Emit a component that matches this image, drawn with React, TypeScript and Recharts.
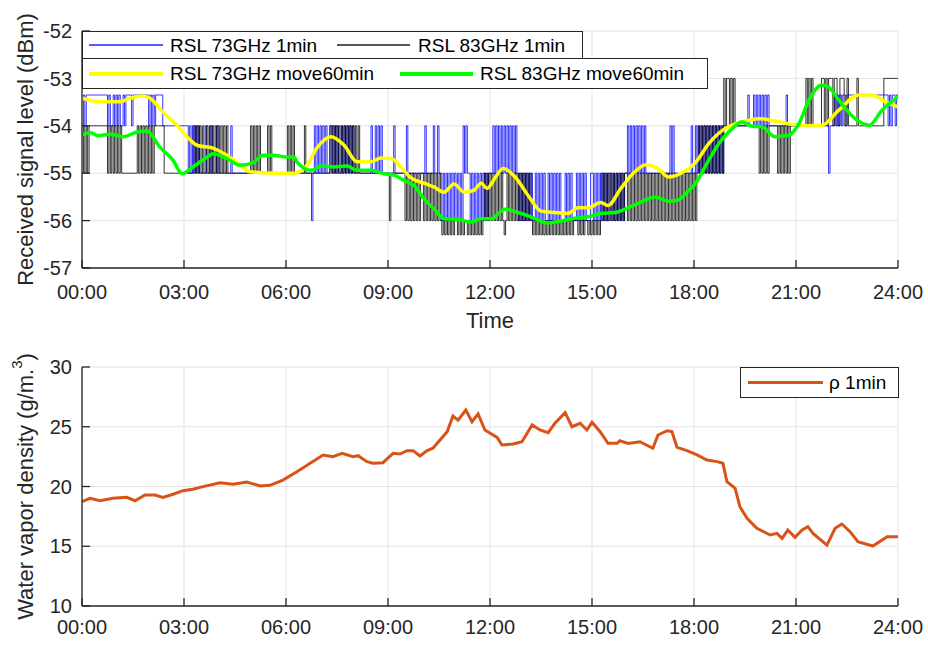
import { LineChart, Line, XAxis, YAxis, CartesianGrid, Legend, Label } from "recharts";

const FONT = '"Liberation Sans", Arial, Helvetica, sans-serif';
const INK = "#262626";
const GRID = "#e3e3e3";

const hourTicks = [0, 3, 6, 9, 12, 15, 18, 21, 24];
const rslTicks = [-57, -56, -55, -54, -53, -52];
const vaporTicks = [10, 15, 20, 25, 30];

// 1-min RSL at 2.5-min steps, one string per hour
const rsl73Levels: Record<string, number> = { a: -53.35, "4": -54, "5": -55, "6": -56 };
const rsl73Steps = [
  "4a4aaaaaaaaaaaaaaa4a44a4", "a4a44a4aaaa4aaaaaaaaaaa4", "a4a4aaaaa444444444444444", "444545454545555455545554",
  "555555555455555555555555", "555555555555555555555555", "555555555555555555654545", "454545544545455454545454",
  "555555555555455454545555", "555545555555545555555555", "554555554554556565656565", "656564545565656565656565",
  "554545454545454545456565", "656565665656565665656565", "656665656566656565656665", "565656565656556565656565",
  "545454545454545555555555", "555555545455555555555545", "545454545454545454545444", "44444444444444a444a4a4a4",
  "a4a4a444444444444a444444", "444444444444444444444445", "444a4a4a4aa4aaaaaaaaaaaa", "aaaaaaaaaaaaaaaaa4a4aa4a",
];

const rsl83Levels: Record<string, number> = { "3": -53, "4": -54, "5": -55, "6": -56, "7": -56.3 };
const rsl83Steps = [
  "545454444444444444545454", "545455555555555454545454", "545444444455555555555555", "555555545454545545454545",
  "454545455555555555555554", "545454555554545555555555", "545454555555545555555555", "555555545454545454545454",
  "545455555555555555555555", "565555555555656565656565", "565656565656567676767676", "676767667676767676765656",
  "565656565676565656565656", "565656767676767676767676", "767676767676667676766767", "676767656565656565656565",
  "565656565656565656565656", "565656565656565656565656", "565454545454545454545343", "343434444444444444444454",
  "545454444445454545454444", "444444434343444444334343", "334334433344344444434444", "444444444444443333333333",
];

// 60-min moving averages [hour, dBm]
const rsl73Move60 = [
  [0, -53.42], [0.53, -53.49], [1.12, -53.49], [1.41, -53.42], [1.79, -53.37],
  [2.0, -53.42], [2.38, -53.71], [2.79, -53.99], [3.09, -54.23], [3.38, -54.41],
  [3.85, -54.47], [4.26, -54.62], [4.65, -54.83], [4.94, -54.97], [5.82, -55.0],
  [6.24, -55.0], [6.62, -54.83], [6.91, -54.47], [7.32, -54.23], [7.71, -54.41],
  [8.09, -54.76], [8.5, -54.76], [8.79, -54.68], [9.09, -54.69], [9.38, -54.87],
  [9.68, -55.1], [10.06, -55.21], [10.35, -55.29], [10.65, -55.4], [10.94, -55.23],
  [11.24, -55.4], [11.53, -55.36], [11.74, -55.21], [11.91, -55.32], [12.15, -55.1],
  [12.38, -54.9], [12.74, -55.08], [13.12, -55.47], [13.5, -55.8], [13.91, -55.83],
  [14.29, -55.85], [14.59, -55.73], [14.88, -55.73], [15.26, -55.62], [15.47, -55.68],
  [15.85, -55.32], [16.26, -54.97], [16.59, -54.82], [16.94, -54.9], [17.24, -55.08],
  [17.62, -55.0], [18.06, -54.76], [18.44, -54.37], [18.91, -54.06], [19.41, -53.92],
  [19.91, -53.85], [20.38, -53.9], [20.88, -53.97], [21.38, -54.0], [21.76, -53.99],
  [22.26, -53.67], [22.85, -53.35], [23.24, -53.35], [23.62, -53.49], [24, -53.6],
];

const rsl83Move60 = [
  [0, -54.2], [0.24, -54.14], [0.47, -54.21], [0.82, -54.18], [1.21, -54.23],
  [1.62, -54.13], [1.91, -54.11], [2.29, -54.45], [2.68, -54.73], [2.94, -55.01],
  [3.26, -54.87], [3.68, -54.66], [3.85, -54.59], [4.26, -54.69], [4.65, -54.83],
  [5.03, -54.78], [5.32, -54.62], [5.62, -54.62], [6.03, -54.66], [6.24, -54.66],
  [6.32, -54.76], [6.74, -54.94], [7.03, -54.85], [7.41, -54.87], [7.79, -54.85],
  [8.09, -54.94], [8.5, -54.94], [8.88, -55.01], [9.18, -55.04], [9.47, -55.15],
  [9.76, -55.26], [10.06, -55.54], [10.35, -55.75], [10.65, -55.96], [11.03, -55.97],
  [11.44, -56.03], [11.74, -55.96], [12.03, -55.96], [12.44, -55.76], [12.82, -55.83],
  [13.2, -55.92], [13.71, -56.05], [14.0, -56.02], [14.5, -55.95], [14.88, -55.92],
  [15.26, -55.85], [15.68, -55.83], [16.06, -55.73], [16.44, -55.61], [16.85, -55.5],
  [17.24, -55.59], [17.53, -55.57], [17.82, -55.38], [18.06, -55.2], [18.32, -54.87],
  [18.74, -54.37], [19.12, -54.06], [19.41, -53.92], [19.71, -54.01], [20.0, -54.02],
  [20.38, -54.23], [20.79, -54.2], [21.09, -53.95], [21.38, -53.46], [21.76, -53.14],
  [21.97, -53.19], [22.26, -53.46], [22.74, -53.85], [23.15, -53.99], [23.53, -53.67],
  [24, -53.39],
];

// water vapour density [hour, g/m3]
const vapor1min = [
  [0, 18.73], [0.24, 19.01], [0.53, 18.81], [0.91, 19.01], [1.32, 19.09], [1.56, 18.81],
  [1.85, 19.29], [2.15, 19.29], [2.38, 19.09], [2.68, 19.35], [2.97, 19.65], [3.26, 19.77],
  [3.56, 19.99], [4.06, 20.32], [4.44, 20.18], [4.85, 20.38], [5.24, 20.04], [5.53, 20.1],
  [5.91, 20.54], [6.32, 21.24], [6.71, 21.94], [7.09, 22.64], [7.38, 22.5], [7.65, 22.78],
  [7.97, 22.5], [8.12, 22.58], [8.38, 22.08], [8.56, 21.94], [8.85, 21.99], [9.15, 22.78],
  [9.35, 22.72], [9.56, 23.0], [9.74, 23.0], [9.94, 22.55], [10.15, 23.0], [10.32, 23.2],
  [10.53, 23.89], [10.74, 24.59], [10.91, 25.9], [11.06, 25.56], [11.29, 26.4], [11.47, 25.42],
  [11.65, 26.07], [11.85, 24.73], [12.21, 24.11], [12.35, 23.47], [12.68, 23.56], [12.94, 23.75],
  [13.24, 25.15], [13.47, 24.73], [13.71, 24.5], [13.91, 25.29], [14.21, 26.18], [14.41, 25.0],
  [14.65, 25.29], [14.85, 24.73], [15.0, 25.37], [15.24, 24.59], [15.47, 23.61], [15.74, 23.61],
  [15.82, 23.83], [16.06, 23.61], [16.41, 23.75], [16.79, 23.2], [16.94, 24.31], [17.21, 24.67],
  [17.35, 24.59], [17.5, 23.28], [17.79, 23.0], [18.09, 22.64], [18.38, 22.22], [18.68, 22.08],
  [18.85, 21.94], [18.97, 20.4], [19.21, 19.85], [19.35, 18.31], [19.56, 17.34], [19.85, 16.5],
  [20.24, 15.94], [20.44, 16.08], [20.59, 15.66], [20.76, 16.36], [20.97, 15.75], [21.18, 16.36],
  [21.35, 16.64], [21.5, 16.08], [21.91, 15.1], [22.15, 16.5], [22.35, 16.86], [22.59, 16.22],
  [22.82, 15.38], [23.26, 15.02], [23.68, 15.8], [24, 15.8],
];

const stepData = (hours: string[], levels: Record<string, number>) => {
  const codes = hours.join("");
  const per = hours[0].length;
  const pts = codes.split("").map((c, i) => ({ t: i / per, v: levels[c] }));
  pts.push({ t: 24, v: levels[codes[codes.length - 1]] });
  return pts;
};
const pairs = (arr: number[][]) => arr.map(([t, v]) => ({ t, v }));

const rsl73Data = stepData(rsl73Steps, rsl73Levels);
const rsl83Data = stepData(rsl83Steps, rsl83Levels);
const move73Data = pairs(rsl73Move60);
const move83Data = pairs(rsl83Move60);
const vaporData = pairs(vapor1min);

const fmtHour = (h: number) => `${String(h).padStart(2, "0")}:00`;
const tickFont = { fontSize: 20, fill: INK, fontFamily: FONT };
const axisStroke = { stroke: INK, strokeWidth: 1.3 };
const noTick = () => <g />;

const Swatch = ({ left, width, color, h }: any) => (
  <span style={{ position: "absolute", left, top: "50%", width, height: h, marginTop: -h / 2, background: color }} />
);
const Txt = ({ left, children }: any) => (
  <span style={{ position: "absolute", left, top: 0, bottom: 0, display: "flex", alignItems: "center", whiteSpace: "nowrap" }}>
    {children}
  </span>
);
const boxStyle = (top: number, width: number, height: number): React.CSSProperties => ({
  position: "absolute", left: 0, top, width, height, border: `1px solid ${INK}`,
  background: "#fff", boxSizing: "border-box",
});

const RslLegend = () => (
  <div style={{ position: "relative", fontFamily: FONT, fontSize: 19, color: "#000", lineHeight: 1 }}>
    <div style={boxStyle(0, 501, 28)}>
      <Swatch left={6} width={74} color="#5a5aff" h={1.2} />
      <Txt left={87}>RSL 73GHz 1min</Txt>
      <Swatch left={254} width={73} color="#555" h={1.2} />
      <Txt left={335}>RSL 83GHz 1min</Txt>
    </div>
    <div style={boxStyle(27, 626, 31)}>
      <Swatch left={6} width={74} color="#ffff00" h={4} />
      <Txt left={87}>RSL 73GHz move60min</Txt>
      <Swatch left={317} width={73} color="#00ff00" h={4} />
      <Txt left={397}>RSL 83GHz move60min</Txt>
    </div>
  </div>
);

const VaporLegend = () => (
  <div style={{ position: "relative", fontFamily: FONT, fontSize: 19, color: "#000", lineHeight: 1 }}>
    <div style={boxStyle(0, 159, 31)}>
      <Swatch left={7} width={75} color="#d95319" h={3} />
      <Txt left={88}>ρ 1min</Txt>
    </div>
  </div>
);

const Title = (text: string, dy: number) => (p: any) => {
  const vb = p.viewBox || { x: 82, y: 31, width: 816 };
  return (
    <text x={vb.x + vb.width / 2} y={vb.y - dy} textAnchor="middle" dominantBaseline="central"
      fontFamily={FONT} fontSize={21} fill="#000">
      {text}
    </text>
  );
};

const YTitle = (children: any, cx: number) => (p: any) => {
  const vb = p.viewBox || { x: 32, y: 31, width: 50, height: 237 };
  const cy = vb.y + vb.height / 2;
  return (
    <text x={cx} y={cy} transform={`rotate(-90 ${cx} ${cy})`} textAnchor="middle"
      dominantBaseline="central" fontFamily={FONT} fontSize={22} fill={INK}>
      {children}
    </text>
  );
};

export default function App() {
  return (
    <div style={{ position: "absolute", left: 0, top: 0, width: 928, height: 646, background: "#fff" }}>
      <div style={{ position: "absolute", left: 0, top: 330 }}>
        <LineChart width={928} height={316} margin={{ top: 37, right: 30, bottom: 10, left: 32 }}>
          <CartesianGrid stroke={GRID} strokeWidth={1} />
          <XAxis dataKey="t" type="number" domain={[0, 24]} ticks={hourTicks} allowDataOverflow
            tickFormatter={fmtHour} tick={tickFont} tickSize={-8} tickMargin={22} height={30}
            axisLine={axisStroke} tickLine={axisStroke} interval={0} />
          <XAxis xAxisId="top" orientation="top" dataKey="t" type="number" domain={[0, 24]} ticks={hourTicks}
            allowDataOverflow tick={noTick} tickSize={-8} height={0} axisLine={axisStroke} tickLine={axisStroke} interval={0}>
            <Label content={Title("(b) 20200801", 15)} />
          </XAxis>
          <YAxis domain={[10, 30]} ticks={vaporTicks} allowDataOverflow tick={tickFont} tickSize={-8}
            tickMargin={18} width={50} axisLine={axisStroke} tickLine={axisStroke} interval={0}>
            <Label content={YTitle(
              <>
                Water vapor density (g/m.<tspan dy={-9} fontSize={15}>3</tspan><tspan dy={9}>)</tspan>
              </>, 25)} />
          </YAxis>
          <YAxis yAxisId="right" orientation="right" domain={[10, 30]} ticks={vaporTicks} allowDataOverflow
            tick={noTick} tickSize={-8} width={0} axisLine={axisStroke} tickLine={axisStroke} interval={0} />
          <Line data={vaporData} dataKey="v" type="linear" stroke="#d95319" strokeWidth={3}
            dot={false} isAnimationActive={false} />
          <Legend layout="horizontal" verticalAlign="middle" align="center" content={<VaporLegend />}
            wrapperStyle={{ left: 740, top: 37, width: 160, height: 32 }} />
        </LineChart>
      </div>
      <div style={{ position: "absolute", left: 0, top: 0 }}>
        <LineChart width={928} height={345} margin={{ top: 31, right: 30, bottom: 47, left: 32 }}>
          <CartesianGrid stroke={GRID} strokeWidth={1} />
          <XAxis dataKey="t" type="number" domain={[0, 24]} ticks={hourTicks} allowDataOverflow
            tickFormatter={fmtHour} tick={tickFont} tickSize={-8} tickMargin={25} height={30}
            axisLine={axisStroke} tickLine={axisStroke} interval={0}>
            <Label content={(p: any) => {
              const vb = p.viewBox || { x: 82, y: 268, width: 816 };
              return (
                <text x={vb.x + vb.width / 2} y={vb.y + 52} textAnchor="middle" dominantBaseline="central"
                  fontFamily={FONT} fontSize={22} fill={INK}>Time</text>
              );
            }} />
          </XAxis>
          <XAxis xAxisId="top" orientation="top" dataKey="t" type="number" domain={[0, 24]} ticks={hourTicks}
            allowDataOverflow tick={noTick} tickSize={-8} height={0} axisLine={axisStroke} tickLine={axisStroke} interval={0}>
            <Label content={Title("(a) 20200801", 17)} />
          </XAxis>
          <YAxis domain={[-57, -52]} ticks={rslTicks} allowDataOverflow tick={tickFont} tickSize={-8}
            tickMargin={18} width={50} axisLine={axisStroke} tickLine={axisStroke} interval={0}>
            <Label content={YTitle("Received signal level (dBm)", 25)} />
          </YAxis>
          <YAxis yAxisId="right" orientation="right" domain={[-57, -52]} ticks={rslTicks} allowDataOverflow
            tick={noTick} tickSize={-8} width={0} axisLine={axisStroke} tickLine={axisStroke} interval={0} />
          <Line data={rsl73Data} dataKey="v" type="stepAfter" stroke="#0000ff" strokeWidth={0.8}
            dot={false} isAnimationActive={false} />
          <Line data={rsl83Data} dataKey="v" type="stepAfter" stroke="#000000" strokeWidth={0.8}
            dot={false} isAnimationActive={false} />
          <Line data={move73Data} dataKey="v" type="monotone" stroke="#ffff00" strokeWidth={3.5}
            dot={false} isAnimationActive={false} />
          <Line data={move83Data} dataKey="v" type="monotone" stroke="#00ff00" strokeWidth={3.5}
            dot={false} isAnimationActive={false} />
          <Legend layout="horizontal" verticalAlign="middle" align="center" content={<RslLegend />}
            wrapperStyle={{ left: 82, top: 31, width: 640, height: 60 }} />
        </LineChart>
      </div>
    </div>
  );
}
